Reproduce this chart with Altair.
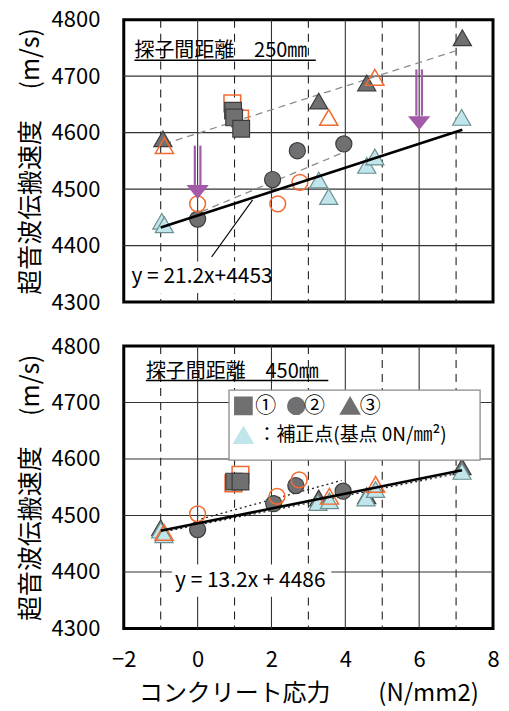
import altair as alt
import pandas as pd

FONT = "Noto Sans CJK JP"
DARK = "#707072"
DARK_S = "#3c3c3c"
BLUE = "#c0e5ea"
BLUE_S = "#6f8f93"
ORANGE = "#f26a2e"
PURPLE = "#a35aa8"

# ---- grid ----
x_major = [0, 2, 4, 6]
x_minor = [-1, 1, 3, 5, 7]
y_grid = [4400, 4500, 4600, 4700]
y_ticks = [4300, 4400, 4500, 4600, 4700, 4800]
x_ticks = [-2, 0, 2, 4, 6, 8]

# ---- top panel (250mm) ----
t_sq_x = [0.96, 0.99, 1.18]
t_sq_y = [4639, 4627, 4607]
t_sq_raw_x = [0.94, 1.15]
t_sq_raw_y = [4652, 4625]
t_ci_x = [0.0, 2.03, 2.70, 3.96]
t_ci_y = [4447, 4517, 4568, 4580]
t_ci_raw_x = [0.0, 2.17, 2.77]
t_ci_raw_y = [4474, 4474, 4512]
t_tr_x = [-0.94, 3.28, 4.58, 7.17]
t_tr_y = [4589, 4656, 4688, 4768]
t_tr_raw_x = [-0.90, 3.55, 4.80]
t_tr_raw_y = [4577, 4627, 4698]
t_cor_x = [-0.97, -0.90, 3.28, 3.55, 4.58, 4.80, 7.15]
t_cor_y = [4443, 4437, 4516, 4487, 4542, 4557, 4627]
t_fit_x = [-1.0, 7.17]
t_fit_y = [4432, 4605]
t_dashA_x = [-0.90, 7.00]
t_dashA_y = [4580, 4745]
t_dashB_x = [0.10, 3.95]
t_dashB_y = [4460, 4565]
t_eq = "y = 21.2x+4453"

# ---- bottom panel (450mm) ----
b_sq_x = [0.99, 1.16]
b_sq_y = [4560, 4560]
b_sq_raw_x = [0.97, 1.16]
b_sq_raw_y = [4557, 4572]
b_ci_x = [0.0, 2.06, 2.66, 3.94]
b_ci_y = [4475, 4521, 4553, 4543]
b_ci_raw_x = [0.0, 2.15, 2.75]
b_ci_raw_y = [4503, 4534, 4563]
b_tr_x = [-1.0, 3.28, 4.58, 7.16]
b_tr_y = [4478, 4531, 4535, 4586]
b_tr_raw_x = [-0.91, 3.57, 4.82]
b_tr_raw_y = [4470, 4534, 4555]
b_cor_x = [-1.0, -0.91, 3.26, 3.57, 4.56, 4.82, 7.16]
b_cor_y = [4474, 4466, 4523, 4526, 4531, 4546, 4578]
b_fit_x = [-1.0, 7.16]
b_fit_y = [4473, 4580]
b_dotA_x = [0.10, 3.90]
b_dotA_y = [4494, 4562]
b_dotB_x = [-1.0, 7.16]
b_dotB_y = [4470, 4576]
b_eq = "y = 13.2x + 4486"

xs = alt.Scale(domain=[-2, 8], nice=False, zero=False)
ys = alt.Scale(domain=[4300, 4800], nice=False, zero=False)

W, H = 370, 283


def make_axes(show_x):
    if show_x:
        xa = alt.Axis(values=x_ticks, labelFontSize=22, labelFont=FONT, labelPadding=21,
                      labelColor="black", title="コンクリート応力　　(N/mm2)", titleFontSize=24,
                      titleFont=FONT, titleFontWeight="normal", titleColor="black",
                      titlePadding=11, grid=False, ticks=False, domain=False, labelFlush=False)
    else:
        xa = None
    ya = alt.Axis(values=y_ticks, format="d", labelFontSize=22, labelFont=FONT, labelPadding=24,
                  labelColor="black", title="超音波伝搬速度　  (m/s)", titleFontSize=25,
                  titleFont=FONT, titleFontWeight="normal", titleColor="black",
                  titlePadding=8, grid=False, ticks=False, domain=False, labelFlush=False)
    return xa, ya


def panel(d, show_x, label, eq, eqpos, eqbox, title_pos, underline, extra):
    xa, ya = make_axes(show_x)

    def X(f="x"):
        return alt.X(f, type="quantitative", scale=xs, axis=xa)

    def Y(f="y"):
        return alt.Y(f, type="quantitative", scale=ys, axis=ya)

    layers = []
    layers.append(alt.Chart(pd.DataFrame({"x": x_major})).mark_rule(color="#333333", strokeWidth=1.1).encode(x=X()))
    layers.append(alt.Chart(pd.DataFrame({"x": x_minor})).mark_rule(color="#222222", strokeWidth=1.1, strokeDash=[8, 6]).encode(x=X()))
    layers.append(alt.Chart(pd.DataFrame({"y": y_grid})).mark_rule(color="#333333", strokeWidth=1.1).encode(y=Y()))
    layers.append(alt.Chart(pd.DataFrame({"x": [eqbox[0]], "x2": [eqbox[1]], "y": [eqbox[2]], "y2": [eqbox[3]]}))
                  .mark_rect(fill="white", strokeWidth=0)
                  .encode(x=X(), x2="x2", y=Y(), y2="y2"))

    def line(xv, yv, **kw):
        return alt.Chart(pd.DataFrame({"x": xv, "y": yv})).mark_line(**kw).encode(x=X(), y=Y())

    for ln in extra["lines"]:
        layers.append(line(ln[0], ln[1], **ln[2]))

    def pts(xv, yv, shape, size, filled, fill=None, stroke=None, sw=1.2):
        df = pd.DataFrame({"x": xv, "y": yv})
        if filled:
            m = alt.Chart(df).mark_point(shape=shape, size=size, filled=True, fill=fill, stroke=stroke,
                                          strokeWidth=sw, opacity=1)
        else:
            m = alt.Chart(df).mark_point(shape=shape, size=size, filled=False, color=stroke,
                                          strokeWidth=sw, opacity=1)
        return m.encode(x=X(), y=Y())

    layers.append(pts(d["sq_raw"][0], d["sq_raw"][1], "square", 280, False, stroke=ORANGE, sw=1.5))
    layers.append(pts(d["sq"][0], d["sq"][1], "square", 280, True, DARK, DARK_S))
    layers.append(pts(d["tr"][0], d["tr"][1], "triangle-up", 330, True, DARK, DARK_S))
    layers.append(pts(d["cor"][0], d["cor"][1], "triangle-up", 330, True, BLUE, BLUE_S))
    layers.append(pts(d["tr_raw"][0], d["tr_raw"][1], "triangle-up", 330, False, stroke=ORANGE, sw=1.5))
    layers.append(pts(d["ci"][0], d["ci"][1], "circle", 260, True, DARK, DARK_S))
    layers.append(pts(d["ci_raw"][0], d["ci_raw"][1], "circle", 250, False, stroke=ORANGE, sw=1.5))

    layers.append(line(d["fit"][0], d["fit"][1], color="black", strokeWidth=2.6))
    layers.extend(extra["post"])

    layers.append(alt.Chart(pd.DataFrame({"x": [eqpos[0]], "y": [eqpos[1]], "t": [eq]}))
                  .mark_text(align="left", baseline="middle", fontSize=21, font=FONT, color="black")
                  .encode(x=X(), y=Y(), text="t:N"))
    layers.append(alt.Chart(pd.DataFrame({"x": [title_pos[0]], "y": [title_pos[1]], "t": [label]}))
                  .mark_text(align="left", baseline="middle", fontSize=20, font=FONT, color="black")
                  .encode(x=X(), y=Y(), text="t:N"))
    layers.append(alt.Chart(pd.DataFrame({"x": [underline[0]], "x2": [underline[1]], "y": [underline[2]]}))
                  .mark_rule(color="black", strokeWidth=1.5)
                  .encode(x=X(), x2="x2", y=Y()))
    return alt.layer(*layers).properties(width=W, height=H)


arrow_x = [0.0, 6.0]
arrow_top = [4577, 4712]
arrow_base = [4507, 4630]
arrow_head = [4495, 4617]


def top_extra():
    xa, ya = make_axes(False)
    X = lambda f="x": alt.X(f, type="quantitative", scale=xs, axis=xa)
    Y = lambda f="y": alt.Y(f, type="quantitative", scale=ys, axis=ya)
    adf = pd.DataFrame({"x": arrow_x, "y": arrow_top, "y2": arrow_base})
    hdf = pd.DataFrame({"x": arrow_x, "y": arrow_head})
    post = [
        alt.Chart(adf).mark_rule(color=PURPLE, strokeWidth=2.2, xOffset=-2.8).encode(x=X(), y=Y(), y2="y2"),
        alt.Chart(adf).mark_rule(color=PURPLE, strokeWidth=2.2, xOffset=2.8).encode(x=X(), y=Y(), y2="y2"),
        alt.Chart(hdf).mark_point(shape="M-1,-0.62L1,-0.62L0,0.62Z", size=500, filled=True,
                                   fill=PURPLE, strokeWidth=0, opacity=1).encode(x=X(), y=Y()),
        alt.Chart(pd.DataFrame({"x": [0.38, 1.49], "y": [4380, 4481]}))
        .mark_line(color="black", strokeWidth=1.1).encode(x=X(), y=Y()),
    ]
    lines = [
        (t_dashA_x, t_dashA_y, dict(color="#8c8c8c", strokeWidth=1.3, strokeDash=[7, 5])),
        (t_dashB_x, t_dashB_y, dict(color="#8c8c8c", strokeWidth=1.3, strokeDash=[7, 5])),
    ]
    return {"lines": lines, "post": post}


leg_box = [0.85, 7.65, 4722, 4598]
leg_row1_y = 4694
leg_row2_y = 4642
leg_marker_x = [1.24, 2.67, 4.13]
leg_text_x = [1.56, 2.88, 4.39]
leg_text = ["①", "②", "③"]
leg_cor_x = 1.24
leg_cor_text_x = 1.62
leg_cor_text = "：補正点(基点 0N/㎜²)"


def bottom_extra():
    xa, ya = make_axes(True)
    X = lambda f="x": alt.X(f, type="quantitative", scale=xs, axis=xa)
    Y = lambda f="y": alt.Y(f, type="quantitative", scale=ys, axis=ya)
    post = [
        alt.Chart(pd.DataFrame({"x": [leg_box[0]], "x2": [leg_box[1]], "y": [leg_box[2]], "y2": [leg_box[3]]}))
        .mark_rect(fill="white", stroke="#8a8a8a", strokeWidth=1.3).encode(x=X(), x2="x2", y=Y(), y2="y2"),
        alt.Chart(pd.DataFrame({"x": [leg_marker_x[0]], "y": [leg_row1_y]}))
        .mark_point(shape="square", size=280, filled=True, fill=DARK, stroke=DARK, opacity=1).encode(x=X(), y=Y()),
        alt.Chart(pd.DataFrame({"x": [leg_marker_x[1]], "y": [leg_row1_y]}))
        .mark_point(shape="circle", size=270, filled=True, fill=DARK, stroke=DARK, opacity=1).encode(x=X(), y=Y()),
        alt.Chart(pd.DataFrame({"x": [leg_marker_x[2]], "y": [leg_row1_y]}))
        .mark_point(shape="triangle-up", size=330, filled=True, fill=DARK, stroke=DARK, opacity=1).encode(x=X(), y=Y()),
        alt.Chart(pd.DataFrame({"x": leg_text_x, "y": [leg_row1_y] * 3, "t": leg_text}))
        .mark_text(align="left", baseline="middle", fontSize=21, font=FONT, color="black")
        .encode(x=X(), y=Y(), text="t:N"),
        alt.Chart(pd.DataFrame({"x": [leg_cor_x], "y": [leg_row2_y]}))
        .mark_point(shape="triangle-up", size=330, filled=True, fill=BLUE, stroke=BLUE, opacity=1).encode(x=X(), y=Y()),
        alt.Chart(pd.DataFrame({"x": [leg_cor_text_x], "y": [leg_row2_y], "t": [leg_cor_text]}))
        .mark_text(align="left", baseline="middle", fontSize=19, font=FONT, color="black")
        .encode(x=X(), y=Y(), text="t:N"),
    ]
    lines = [
        (b_dotA_x, b_dotA_y, dict(color="#222222", strokeWidth=1.3, strokeDash=[2, 3])),
        (b_dotB_x, b_dotB_y, dict(color="#222222", strokeWidth=1.3, strokeDash=[2, 3])),
    ]
    return {"lines": lines, "post": post}


top_d = {"sq": (t_sq_x, t_sq_y), "sq_raw": (t_sq_raw_x, t_sq_raw_y), "ci": (t_ci_x, t_ci_y),
         "ci_raw": (t_ci_raw_x, t_ci_raw_y), "tr": (t_tr_x, t_tr_y), "tr_raw": (t_tr_raw_x, t_tr_raw_y),
         "cor": (t_cor_x, t_cor_y), "fit": (t_fit_x, t_fit_y)}
bot_d = {"sq": (b_sq_x, b_sq_y), "sq_raw": (b_sq_raw_x, b_sq_raw_y), "ci": (b_ci_x, b_ci_y),
         "ci_raw": (b_ci_raw_x, b_ci_raw_y), "tr": (b_tr_x, b_tr_y), "tr_raw": (b_tr_raw_x, b_tr_raw_y),
         "cor": (b_cor_x, b_cor_y), "fit": (b_fit_x, b_fit_y)}

top = panel(top_d, False, "探子間距離　250㎜", t_eq, (-1.79, 4344), (-1.92, 1.93, 4372, 4316),
            (-1.71, 4744), (-1.71, 3.2, 4728), top_extra())
bottom = panel(bot_d, True, "探子間距離　450㎜", b_eq, (-0.61, 4384), (-0.69, 3.62, 4413, 4356),
               (-1.40, 4754), (-1.40, 3.54, 4739), bottom_extra())

chart = alt.vconcat(top, bottom, spacing=44, bounds="flush").properties(
    padding={"left": 8, "top": -2, "right": 0, "bottom": 0},
    background="white",
).configure_view(stroke="black", strokeWidth=3)

chart.save("out.html", embed_options={"renderer": "svg", "actions": False})
